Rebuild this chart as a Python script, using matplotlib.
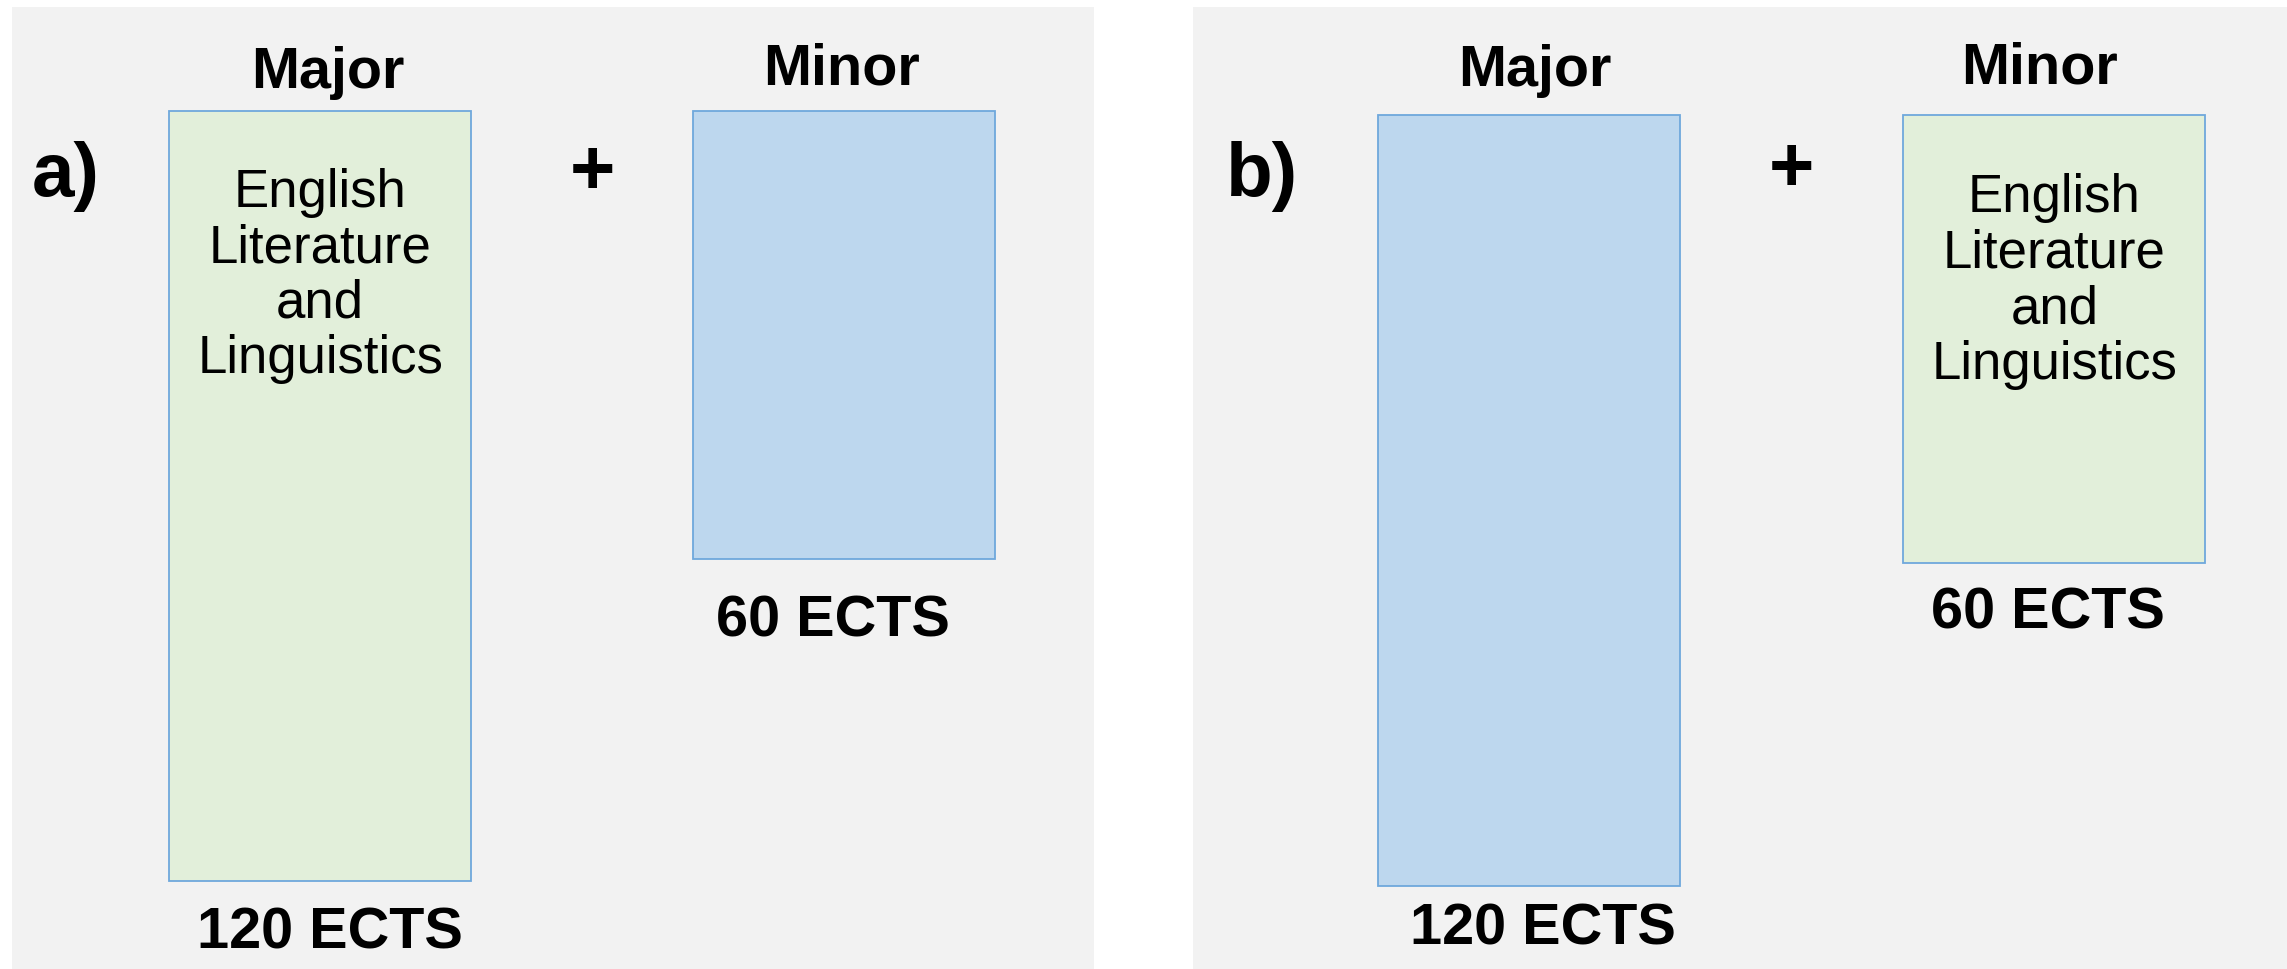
import matplotlib
matplotlib.use("Agg")
import matplotlib.pyplot as plt
from matplotlib.patches import Rectangle

# ---- data ----
panels = ["a)", "b)"]
slots = ["Major", "Minor"]
ects = [120, 60]
ects_labels = ["120 ECTS", "60 ECTS"]
subject = "English\nLiterature\nand\nLinguistics"
subject_slot = [0, 1]          # panel a: subject is Major; panel b: subject is Minor

# ---- style / layout (in reference display units, 1568 x 664) ----
GREEN = "#E2EFDA"
BLUE = "#BDD7EE"
EDGE = "#6FA8DC"
PANEL_BG = "#F2F2F2"
W, H = 1568, 664
panel_x = [(8, 750), (818, 1568)]
panel_top = 5
bar_left = [[116, 475], [945, 1305]]
bar_top = [[76, 76], [79, 79]]
bar_w = 207
bar_len = {120: 528, 60: 307}
slot_label_xy = [[(225, 60), (577, 58)], [(1052, 59), (1398, 57)]]
ects_label_xy = [[(226, 650), (571, 436)], [(1058, 647), (1404, 431)]]
panel_label_xy = [(45, 134), (865, 134)]
plus_xy = [(406, 119), (1228, 117)]
subj_y = [189, 193]

plt.rcParams["font.family"] = ["Liberation Sans", "DejaVu Sans"]

fig = plt.figure(figsize=(22.87, 9.69), dpi=100)
fig.patch.set_facecolor("white")
ax = fig.add_axes([0, 0, 1, 1])
ax.set_xlim(0, W)
ax.set_ylim(H, 0)
ax.axis("off")

for p, name in enumerate(panels):
    x0, x1 = panel_x[p]
    ax.add_patch(Rectangle((x0, panel_top), x1 - x0, H - panel_top,
                           facecolor=PANEL_BG, edgecolor="none", zorder=0))
    for s, slot in enumerate(slots):
        is_subj = subject_slot[p] == s
        color = GREEN if is_subj else BLUE
        h = bar_len[ects[s]]
        ax.bar(bar_left[p][s], h, width=bar_w, bottom=bar_top[p][s], align="edge",
               color=color, edgecolor=EDGE, linewidth=1.3, zorder=2)
        lx, ly = slot_label_xy[p][s]
        ax.text(lx, ly, slot, ha="center", va="baseline", fontsize=41.5,
                fontweight="bold", zorder=3)
        ex, ey = ects_label_xy[p][s]
        ax.text(ex, ey, ects_labels[s], ha="center", va="baseline", fontsize=41.5,
                fontweight="bold", zorder=3)
        if is_subj:
            cx = bar_left[p][s] + bar_w / 2
            ax.text(cx, subj_y[p], subject, ha="center", va="center",
                    multialignment="center", fontsize=38, linespacing=1.14, zorder=3)
    px, py = panel_label_xy[p]
    ax.text(px, py, name, ha="center", va="baseline", fontsize=55,
            fontweight="bold", zorder=3)
    qx, qy = plus_xy[p]
    ax.text(qx, qy, "+", ha="center", va="center", fontsize=56,
            fontweight="bold", zorder=3)

fig.savefig("out.png", dpi=100, facecolor="white")
